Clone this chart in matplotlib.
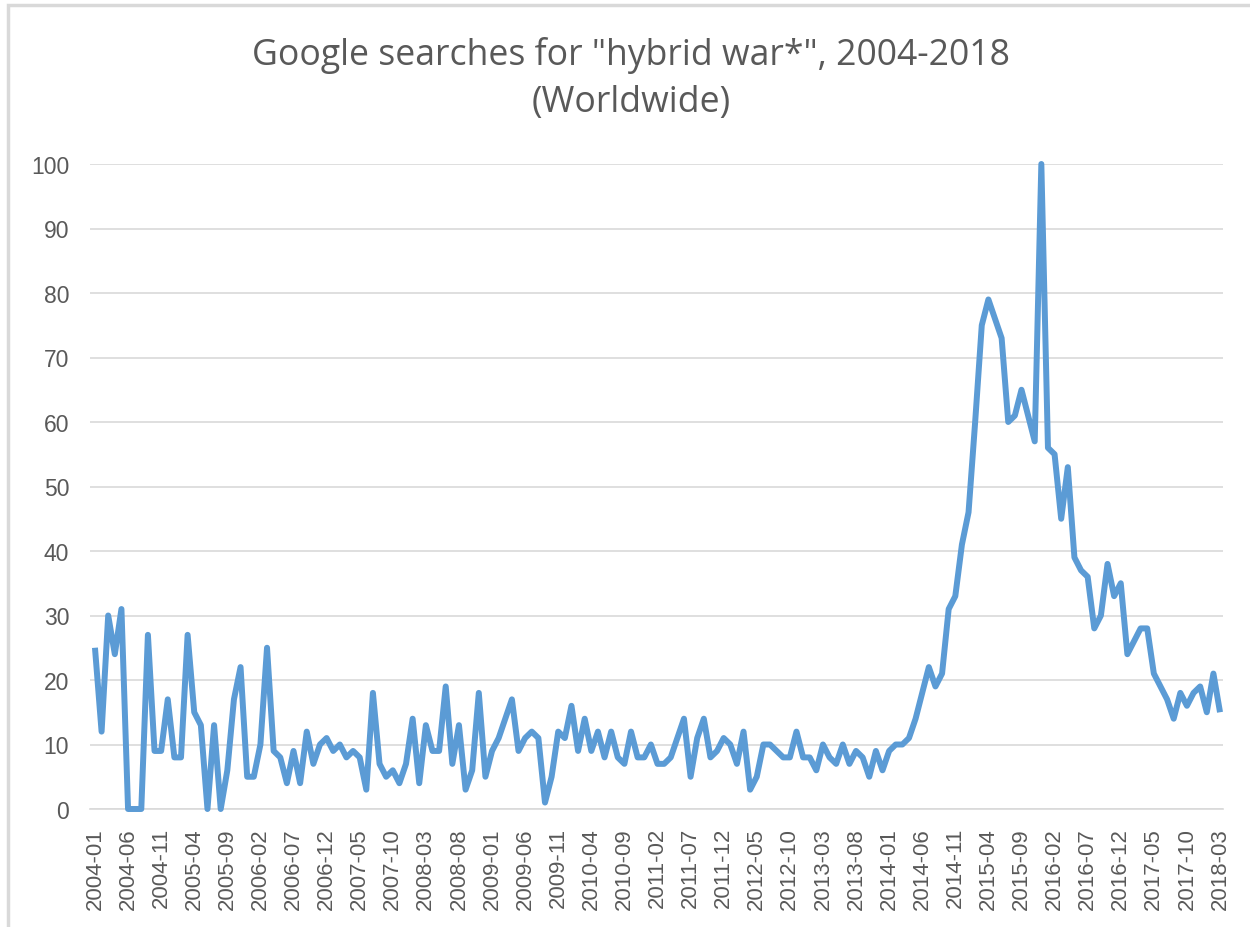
import numpy as np
import pandas as pd
import matplotlib
matplotlib.use("Agg")
import matplotlib.pyplot as plt
from matplotlib.patches import Rectangle

# monthly google trends index, 2004-01 .. 2018-03
months = [str(p) for p in pd.period_range("2004-01", "2018-03", freq="M")]
values = [
    25, 12, 30, 24, 31, 0, 0, 0, 27, 9,
    9, 17, 8, 8, 27, 15, 13, 0, 13, 0,
    6, 17, 22, 5, 5, 10, 25, 9, 8, 4,
    9, 4, 12, 7, 10, 11, 9, 10, 8, 9,
    8, 3, 18, 7, 5, 6, 4, 7, 14, 4,
    13, 9, 9, 19, 7, 13, 3, 6, 18, 5,
    9, 11, 14, 17, 9, 11, 12, 11, 1, 5,
    12, 11, 16, 9, 14, 9, 12, 8, 12, 8,
    7, 12, 8, 8, 10, 7, 7, 8, 11, 14,
    5, 11, 14, 8, 9, 11, 10, 7, 12, 3,
    5, 10, 10, 9, 8, 8, 12, 8, 8, 6,
    10, 8, 7, 10, 7, 9, 8, 5, 9, 6,
    9, 10, 10, 11, 14, 18, 22, 19, 21, 31,
    33, 41, 46, 60, 75, 79, 76, 73, 60, 61,
    65, 61, 57, 100, 56, 55, 45, 53, 39, 37,
    36, 28, 30, 38, 33, 35, 24, 26, 28, 28,
    21, 19, 17, 14, 18, 16, 18, 19, 15, 21,
    15,
]
yticks = [0, 10, 20, 30, 40, 50, 60, 70, 80, 90, 100]
title = 'Google searches for "hybrid war*", 2004-2018\n(Worldwide)'

text_col = "#595959"
grid_col = "#d9d9d9"
line_col = "#5b9bd5"

fig = plt.figure(figsize=(12.5, 9.28), dpi=100)
W, H = 1250, 928
# axes box in pixels: left 90, right 1223, bottom 810, top 165
ax = fig.add_axes([90 / W, 1 - 810 / H, (1223 - 90) / W, (810 - 165) / H])

x = np.arange(len(months))
ax.plot(x, values, color=line_col, lw=4.3, solid_joinstyle="round", solid_capstyle="butt",
        clip_on=False, zorder=3)

ax.set_xlim(-0.75, len(months) - 1 + 0.45)
ax.set_ylim(0, 100)
ax.set_yticks(yticks)
ax.set_yticklabels([str(v) for v in yticks])
ax.set_xticks(x[::5])
ax.set_xticklabels(months[::5], rotation=90)

ax.grid(axis="y", color=grid_col, lw=1.2)
ax.set_axisbelow(True)
for s in ["top", "right", "left"]:
    ax.spines[s].set_visible(False)
ax.spines["bottom"].set_color(grid_col)
ax.spines["bottom"].set_linewidth(1.2)

ax.tick_params(axis="y", length=0, pad=15, labelsize=16.5, labelcolor=text_col)
ax.tick_params(axis="x", length=0, pad=13, labelsize=16, labelcolor=text_col)
for lab in ax.get_xticklabels() + ax.get_yticklabels():
    lab.set_fontfamily("Liberation Sans")

fig.text(631 / W, 1 - 79 / H, title, ha="center", va="center", fontsize=25.7,
         color=text_col, family="Open Sans", linespacing=1.38)

# light chart-area border like the excel frame
fig.patches.append(Rectangle((8 / W, -0.01), 1.0, 1 - 6 / H + 0.01, transform=fig.transFigure,
                             fill=False, edgecolor="#d9d9d9", lw=2.5))

fig.savefig("out.png", dpi=100, facecolor="white")
